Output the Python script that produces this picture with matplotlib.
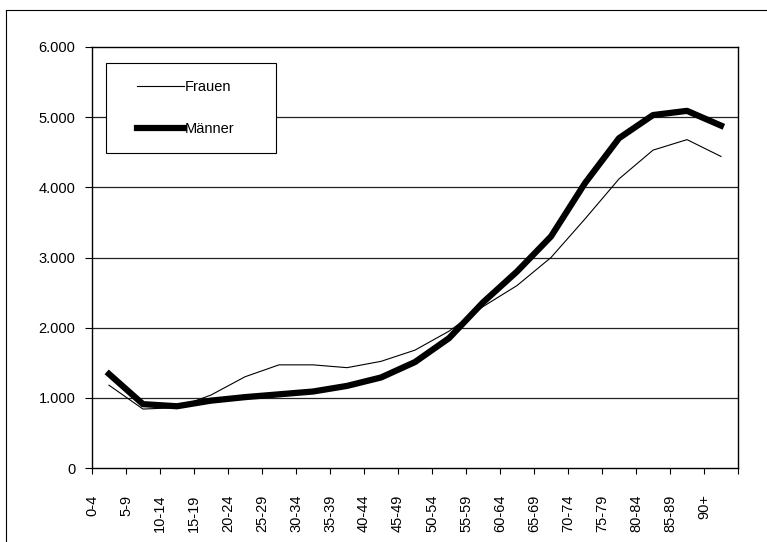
import matplotlib
matplotlib.use("Agg")
import matplotlib.pyplot as plt
from matplotlib.patches import Rectangle
from matplotlib.lines import Line2D
from matplotlib.ticker import FuncFormatter

plt.rcParams['font.family'] = ['Liberation Sans', 'DejaVu Sans']
plt.rcParams['font.size'] = 10.5

# Altersgruppen und Werte
age_groups = ['0-4', '5-9', '10-14', '15-19', '20-24', '25-29', '30-34', '35-39',
              '40-44', '45-49', '50-54', '55-59', '60-64', '65-69', '70-74',
              '75-79', '80-84', '85-89', '90+']
frauen = [1180, 840, 860, 1040, 1300, 1470, 1470, 1430, 1520, 1680, 1950,
          2300, 2600, 3000, 3550, 4120, 4530, 4680, 4440]
maenner = [1340, 910, 880, 960, 1010, 1050, 1090, 1170, 1290, 1510, 1850,
           2360, 2800, 3300, 4060, 4700, 5030, 5090, 4880]
y_ticks = [0, 1000, 2000, 3000, 4000, 5000, 6000]

fig = plt.figure(figsize=(7.67, 5.42), dpi=100)
ax = fig.add_axes([92 / 767, 1 - 468 / 542, 646 / 767, 421 / 542])

# Excel-Stil: Punkte zwischen den Teilstrichen
xs = [i + 0.5 for i in range(len(age_groups))]
ax.plot(xs, frauen, color='black', lw=0.8, label='Frauen', zorder=2)
ax.plot(xs, maenner, color='black', lw=4.5, label='Männer', zorder=2,
        solid_joinstyle='round')

ax.set_xlim(0, len(age_groups))
ax.set_ylim(0, 6000)
ax.set_yticks(y_ticks)
ax.yaxis.set_major_formatter(FuncFormatter(lambda v, p: f"{int(v):,}".replace(',', '.')))
ax.set_xticks(range(len(age_groups) + 1))
ax.set_xticklabels(age_groups + [''], rotation=90, va='top')

for y in y_ticks[1:-1]:
    ax.axhline(y, color='#222222', lw=0.9, zorder=1)

for s in ax.spines.values():
    s.set_color('black')
    s.set_linewidth(1.0)
ax.tick_params(axis='x', direction='out', length=4, width=0.8, pad=15)
ax.tick_params(axis='y', direction='out', length=5, width=0.8, pad=7)

# Legendenkasten
box = Rectangle(((106 - 92) / 646, (468 - 153) / 421), 170 / 646, 90 / 421,
                transform=ax.transAxes, facecolor='white', edgecolor='black',
                lw=0.8, zorder=3)
ax.add_patch(box)
leg = ax.legend(loc='upper left', bbox_to_anchor=((137 - 92) / 646, (468 - 80) / 421),
                frameon=False, borderpad=0, handlelength=3.2, handletextpad=0.1,
                labelspacing=1.95, borderaxespad=0)
leg.set_zorder(4)

# Rahmen des Diagrammbereichs (nur links und oben sichtbar)
fig.add_artist(Line2D([6 / 767, 1], [1 - 10 / 542, 1 - 10 / 542], color='black', lw=0.8))
fig.add_artist(Line2D([6 / 767, 6 / 767], [0, 1 - 10 / 542], color='black', lw=0.8))

fig.savefig('out.png', dpi=100)
